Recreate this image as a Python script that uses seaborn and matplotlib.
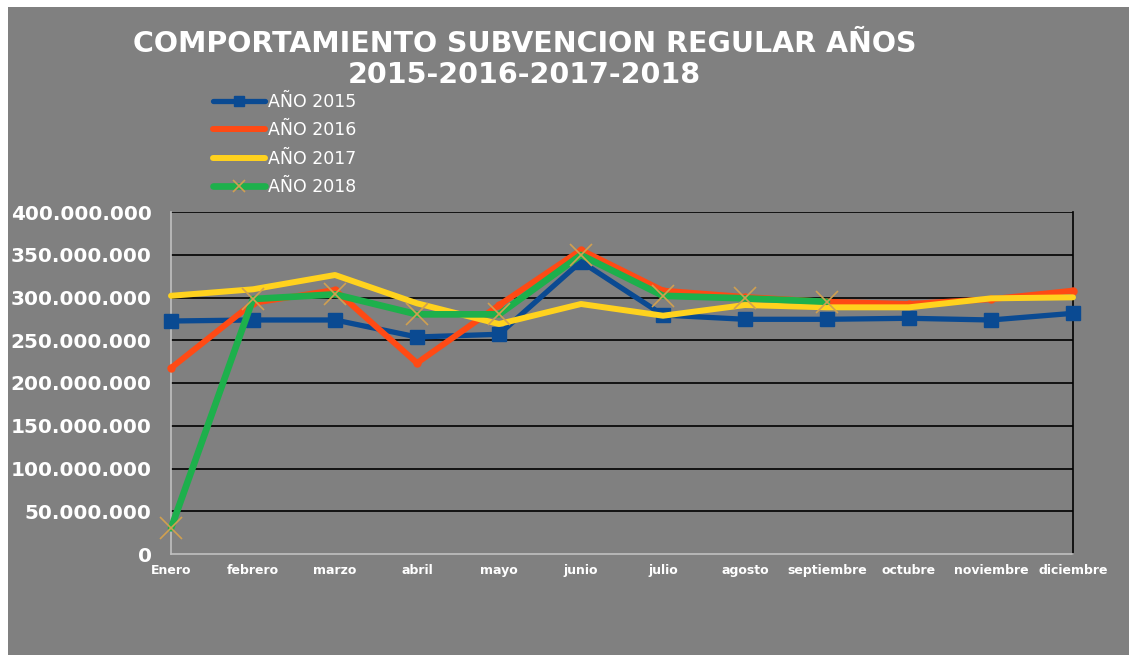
import matplotlib.pyplot as plt
import matplotlib.patches as mpatches
from matplotlib.ticker import FuncFormatter
import pandas as pd
import numpy as np
import seaborn as sns

meses = ["Enero", "febrero", "marzo", "abril", "mayo", "junio", "julio",
         "agosto", "septiembre", "octubre", "noviembre", "diciembre"]

anio_2015 = [272.5e6, 273.7e6, 273.7e6, 253.8e6, 257.0e6, 342.0e6,
             279.5e6, 274.5e6, 274.5e6, 275.7e6, 273.7e6, 281.5e6]
anio_2016 = [217.5e6, 293.6e6, 308.8e6, 223.4e6, 291.0e6, 355.6e6,
             308.0e6, 300.6e6, 295.0e6, 292.4e6, 298.0e6, 308.0e6]
anio_2017 = [302.0e6, 309.6e6, 326.3e6, 293.2e6, 269.0e6, 292.4e6,
             278.7e6, 291.2e6, 288.5e6, 288.5e6, 299.0e6, 300.2e6]
anio_2018 = [30.0e6, 298.2e6, 303.7e6, 280.3e6, 280.3e6, 349.7e6,
             302.0e6, 299.0e6, 295.0e6, np.nan, np.nan, np.nan]

series = {"AÑO 2015": anio_2015, "AÑO 2016": anio_2016,
          "AÑO 2017": anio_2017, "AÑO 2018": anio_2018}

estilos = {
    "AÑO 2015": dict(color="#0a4a92", lw=3.8, marker="s", ms=10, mfc="#0a4a92", mec="#0a4a92", leg_ms=7),
    "AÑO 2016": dict(color="#ff4a14", lw=4.3, marker="o", ms=5, mfc="#ff4a14", mec="#ff4a14", leg_ms=0),
    "AÑO 2017": dict(color="#ffd21e", lw=4.3, marker=None, leg_ms=0),
    "AÑO 2018": dict(color="#1db04c", lw=4.8, marker="x", ms=16, mec="#d0a050", mew=1.2, leg_ms=9),
}

sns.set_style("white")
plt.rcParams['font.family'] = ['DejaVu Sans']

fig = plt.figure(figsize=(11.29, 6.55), dpi=100)
fig.patch.set_facecolor("white")
fig.add_artist(mpatches.Rectangle((8 / 1129, 0), 1 - 8 / 1129, 1 - 7 / 655,
                                  transform=fig.transFigure, facecolor="#808080",
                                  edgecolor="none", zorder=0))

ax = fig.add_axes([171 / 1129, 1 - 554 / 655, (1073 - 171) / 1129, (554 - 212) / 655])
ax.set_facecolor("#808080")

x = np.arange(len(meses))
for nombre, valores in series.items():
    df = pd.DataFrame({"x": x, "valor": valores}).dropna()
    st = estilos[nombre]
    sns.lineplot(data=df, x="x", y="valor", ax=ax, label=nombre,
                 color=st["color"], linewidth=st["lw"], marker=st["marker"],
                 markersize=st.get("ms", 0), markerfacecolor=st.get("mfc", "none"),
                 markeredgecolor=st.get("mec", st["color"]),
                 markeredgewidth=st.get("mew", 1), clip_on=False, zorder=3)

ax.set_xlim(0, 11)
ax.set_ylim(0, 400e6)
ax.set_yticks(np.arange(0, 400e6 + 1, 50e6))
ax.yaxis.set_major_formatter(FuncFormatter(lambda v, p: f"{int(v):,}".replace(",", ".")))
ax.set_xticks(x)
ax.set_xticklabels(meses)
ax.set_xlabel("")
ax.set_ylabel("")

for g in np.arange(50e6, 400e6 + 1, 50e6):
    ax.axhline(g, color="black", lw=1.2, zorder=1)

for s in ["left", "bottom"]:
    ax.spines[s].set_color("#c0c0c0")
    ax.spines[s].set_linewidth(1.2)
ax.spines["right"].set_color("black")
ax.spines["right"].set_linewidth(1.2)
ax.spines["top"].set_visible(False)

ax.tick_params(axis="y", colors="#c0c0c0", length=5, width=1, direction="out", pad=9)
ax.tick_params(axis="x", colors="#c0c0c0", length=5, width=1, direction="out", pad=2)
for t in ax.get_yticklabels():
    t.set_color("white")
    t.set_fontsize(14.4)
    t.set_fontweight("bold")
for t in ax.get_xticklabels():
    t.set_color("white")
    t.set_fontsize(9)
    t.set_fontweight("bold")

fig.text(0.4645, 1 - 44 / 655, "COMPORTAMIENTO SUBVENCION REGULAR AÑOS",
         ha="center", va="center", color="white", fontsize=20.5, fontweight="bold")
fig.text(0.4645, 1 - 75 / 655, "2015-2016-2017-2018",
         ha="center", va="center", color="white", fontsize=20.5, fontweight="bold")

leg = ax.legend(loc="upper left", bbox_to_anchor=(213 / 1129, 1 - 93 / 655),
                bbox_transform=fig.transFigure, frameon=False, fontsize=12.5,
                handlelength=3.0, handletextpad=0.15, labelspacing=0.6,
                borderaxespad=0, borderpad=0)
for t in leg.get_texts():
    t.set_color("white")
for h, nombre in zip(leg.legend_handles, series):
    h.set_markersize(estilos[nombre]["leg_ms"])

fig.savefig("out.png", dpi=100)
